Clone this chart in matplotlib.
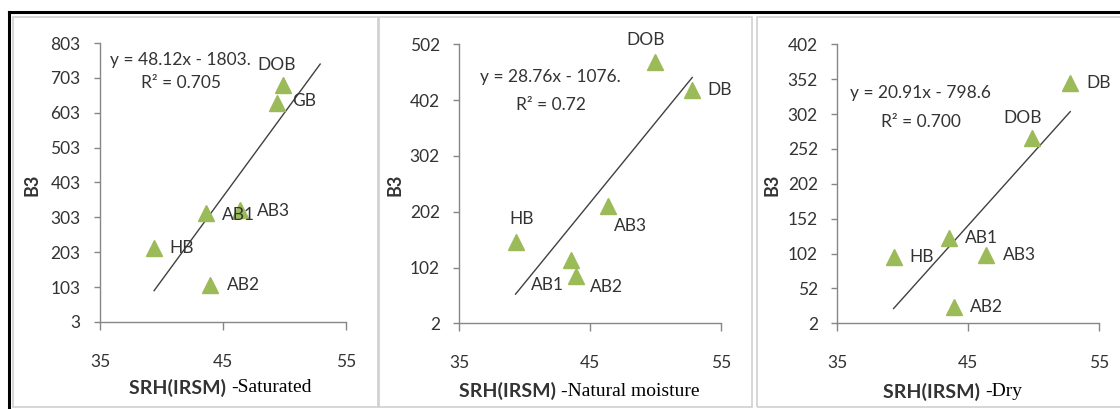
import numpy as np
import matplotlib.pyplot as plt
from matplotlib.patches import Rectangle
from matplotlib.lines import Line2D

W, H = 1120, 409

# Saturated
names_sat = ['HB', 'AB1', 'AB3', 'AB2', 'GB', 'DOB']
srh_sat = [39.4, 43.6, 46.4, 43.95, 49.4, 49.9]
b3_sat = [215, 315, 325, 110, 631, 684]
fit_sat = (48.12, -1803.0)
fit_x_sat = [39.4, 52.9]

# Natural moisture
names_nat = ['HB', 'AB1', 'AB2', 'AB3', 'DOB', 'DB']
srh_nat = [39.3, 43.5, 43.9, 46.4, 49.95, 52.75]
b3_nat = [147, 115, 86, 212, 471, 420]
fit_nat = (28.76, -1076.0)
fit_x_nat = [39.3, 52.8]

# Dry
names_dry = ['HB', 'AB1', 'AB2', 'AB3', 'DOB', 'DB']
srh_dry = [39.3, 43.5, 43.9, 46.4, 49.85, 52.8]
b3_dry = [97, 125, 25, 100, 267, 347]
fit_dry = (20.91, -798.6)
fit_x_dry = [39.3, 52.8]

sans = ['Lato', 'DejaVu Sans']
serif = ['Liberation Serif', 'DejaVu Serif']
txt = '#333333'
axis_gray = '#868686'
green = '#9BBB59'
fs = 12.5


def fx(px):
    return px / W


def fy(py):
    return 1 - py / H


fig = plt.figure(figsize=(W / 100, H / 100), dpi=100)

# panel frames and the black outer border
for x0, x1 in [(13, 378), (379, 752), (757, 1125)]:
    fig.add_artist(Rectangle((fx(x0), fy(407)), fx(x1 - x0), 390 / H,
                             transform=fig.transFigure, fill=False,
                             edgecolor='#d0d0d0', lw=1.2))
fig.add_artist(Line2D([fx(9), 1], [fy(12), fy(12)], color='black', lw=2.2,
                      transform=fig.transFigure))
fig.add_artist(Line2D([fx(9), fx(9)], [fy(12), 0], color='black', lw=2.2,
                      transform=fig.transFigure))

panels = [
    dict(names=names_sat, x=srh_sat, y=b3_sat, fit=fit_sat, fx=fit_x_sat,
         rect=(100, 43, 346, 322), ylim=(3, 803), step=100,
         eq='y = 48.12x - 1803.', r2='R² = 0.705',
         eqpos=(0.325, 0.939), r2pos=(0.33, 0.857),
         offs={'HB': (28, 0), 'AB1': (33, -2), 'AB3': (33, -1), 'AB2': (33, 0),
               'GB': (27, 2), 'DOB': (-7, 20)},
         ylab=(32, 185), xlab=(129, 388), cond='-Saturated'),
    dict(names=names_nat, x=srh_nat, y=b3_nat, fit=fit_nat, fx=fit_x_nat,
         rect=(459.3, 44.3, 721, 323.3), ylim=(2, 502), step=100,
         eq='y = 28.76x - 1076.', r2='R² = 0.72',
         eqpos=(0.347, 0.884), r2pos=(0.35, 0.782),
         offs={'HB': (6, 23), 'AB1': (-23, -25), 'AB2': (31, -11), 'AB3': (22, -20),
               'DOB': (-9, 22), 'DB': (28, 0)},
         ylab=(395, 185), xlab=(459, 391), cond='-Natural moisture'),
    dict(names=names_dry, x=srh_dry, y=b3_dry, fit=fit_dry, fx=fit_x_dry,
         rect=(837.3, 44.3, 1099, 323.3), ylim=(2, 402), step=50,
         eq='y = 20.91x - 798.6', r2='R² = 0.700',
         eqpos=(0.316, 0.824), r2pos=(0.32, 0.7226),
         offs={'HB': (28, 0), 'AB1': (33, 0), 'AB2': (33, 0), 'AB3': (33, 0),
               'DOB': (-9, 20), 'DB': (28, 0)},
         ylab=(772, 185), xlab=(883, 392), cond='-Dry'),
]

for p in panels:
    l, t, r, b = p['rect']
    ax = fig.add_axes([fx(l), fy(b), fx(r - l), (b - t) / H])
    ax.set_xlim(35, 55)
    ax.set_ylim(*p['ylim'])
    ax.set_xticks([35, 45, 55])
    ax.set_yticks(np.arange(p['ylim'][0], p['ylim'][1] + 1, p['step']))
    for s in ['top', 'right']:
        ax.spines[s].set_visible(False)
    for s in ['left', 'bottom']:
        ax.spines[s].set_color(axis_gray)
        ax.spines[s].set_linewidth(1.0)
    ax.tick_params(axis='y', direction='out', length=4, width=1, color=axis_gray,
                   pad=10, labelsize=fs, labelcolor=txt)
    ax.tick_params(axis='x', direction='out', length=6, width=1, color=axis_gray,
                   pad=17, labelsize=fs, labelcolor=txt)
    for lab in ax.get_xticklabels() + ax.get_yticklabels():
        lab.set_family(sans)

    # trendline from the fitted equation, then the samples
    slope, icpt = p['fit']
    xs = np.array(p['fx'])
    ax.plot(xs, slope * xs + icpt, color='#404040', lw=1.0, zorder=2)
    ax.plot(p['x'], p['y'], linestyle='none', marker='^', ms=12,
            color=green, zorder=3, clip_on=False)
    for n, xv, yv in zip(p['names'], p['x'], p['y']):
        ax.annotate(n, (xv, yv), xytext=p['offs'][n], textcoords='offset pixels',
                    ha='center', va='center', fontsize=fs, color=txt,
                    family=sans, annotation_clip=False, zorder=4)

    ax.text(*p['eqpos'], p['eq'], transform=ax.transAxes, ha='center',
            va='center', fontsize=fs, color=txt, family=sans)
    ax.text(*p['r2pos'], p['r2'], transform=ax.transAxes, ha='center',
            va='center', fontsize=fs, color=txt, family=sans)

    fig.text(fx(p['ylab'][0]), fy(p['ylab'][1]), 'B3', rotation=90,
             ha='center', va='center', fontsize=13, fontweight='bold',
             color=txt, family=sans)
    t1 = fig.text(fx(p['xlab'][0]), fy(p['xlab'][1]), 'SRH(IRSM) ', ha='left',
                  va='center', fontsize=14, fontweight='bold', color=txt,
                  family=sans)
    ax.annotate(p['cond'], xy=(1, 0.5), xycoords=t1, ha='left', va='center',
                fontsize=14, color='black', family=serif, annotation_clip=False)

fig.savefig('out.png', dpi=100)
